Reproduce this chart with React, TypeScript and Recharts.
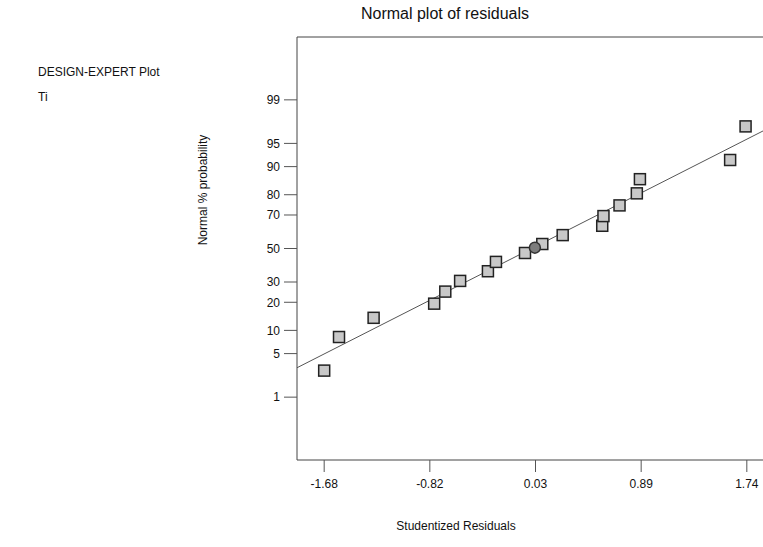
import React from 'react';
import { ScatterChart, Scatter, XAxis, YAxis, ReferenceLine, ReferenceArea } from 'recharts';

// studentized residuals of the runs (squares)
const residuals = [-1.68, -1.56, -1.28, -0.79, -0.7, -0.58, -0.355, -0.29, -0.055, 0.085, 0.25, 0.57, 0.58, 0.71, 0.85, 0.875, 1.605, 1.73];
const probabilities = [2.8, 8.3, 13.9, 19.4, 25, 30.6, 36.1, 41.7, 47.2, 52.8, 58.3, 63.9, 69.4, 75, 80.6, 86.1, 91.7, 97.2];

// the single round marker near the middle
const circleResidual = [0.025];
const circleProbability = [50.5];

// fitted reference line end points (residual, % probability)
const lineResidual = [-1.9, 1.96];
const lineProbability = [3.1, 97.3];

const xTicks = [-1.68, -0.825, 0.03, 0.885, 1.74];
const xTickLabels = ['-1.68', '-0.82', '0.03', '0.89', '1.74'];
const yTickLabels = [1, 5, 10, 20, 30, 50, 70, 80, 90, 95, 99];

const FONT = '"Liberation Sans", Arial, Helvetica, sans-serif';

// inverse normal CDF (Acklam), turns % probability into a normal score
const probit = (p: number) => {
  const a = [-39.69683028665376, 220.9460984245205, -275.9285104469687, 138.357751867269, -30.66479806614716, 2.506628277459239];
  const b = [-54.47609879822406, 161.5858368580409, -155.6989798598866, 66.80131188771972, -13.28068155288572];
  const c = [-0.007784894002430293, -0.3223964580411365, -2.400758277161838, -2.549732539343734, 4.374664141464968, 2.938163982698783];
  const d = [0.007784695709041462, 0.3224671290700398, 2.445134137142996, 3.754408661907416];
  const lo = 0.02425;
  if (p < lo) {
    const q = Math.sqrt(-2 * Math.log(p));
    return (((((c[0] * q + c[1]) * q + c[2]) * q + c[3]) * q + c[4]) * q + c[5]) / ((((d[0] * q + d[1]) * q + d[2]) * q + d[3]) * q + 1);
  }
  if (p > 1 - lo) {
    const q = Math.sqrt(-2 * Math.log(1 - p));
    return -(((((c[0] * q + c[1]) * q + c[2]) * q + c[3]) * q + c[4]) * q + c[5]) / ((((d[0] * q + d[1]) * q + d[2]) * q + d[3]) * q + 1);
  }
  const q = p - 0.5;
  const r = q * q;
  return ((((((a[0] * r + a[1]) * r + a[2]) * r + a[3]) * r + a[4]) * r + a[5]) * q) / (((((b[0] * r + b[1]) * r + b[2]) * r + b[3]) * r + b[4]) * r + 1);
};

const squareData = residuals.map((x, i) => ({ x, z: probit(probabilities[i] / 100) }));
const circleData = circleResidual.map((x, i) => ({ x, z: probit(circleProbability[i] / 100) }));
const yTicks = yTickLabels.map(p => probit(p / 100));

const X_DOMAIN: [number, number] = [-1.9, 1.96];
const Y_DOMAIN: [number, number] = [-3.31, 3.31];

const SquareMark = (props: any) => {
  const { cx, cy } = props;
  return <rect x={cx - 5.5} y={cy - 5.5} width={11} height={11} fill="#c8c8c8" stroke="#222" strokeWidth={1.5} />;
};

const CircleMark = (props: any) => {
  const { cx, cy } = props;
  return <circle cx={cx} cy={cy} r={5.5} fill="#7d7d7d" stroke="#333" strokeWidth={1.5} />;
};

// all positions are page coordinates (the frame is fixed to the viewport)
const text: React.CSSProperties = {
  position: 'absolute',
  fontFamily: FONT,
  fontSize: 12,
  color: '#111',
  whiteSpace: 'nowrap',
  lineHeight: '14px',
};

export default function App() {
  return (
    <div style={{ position: 'fixed', left: 0, top: 0, width: 763, height: 547, overflow: 'hidden', background: '#fff' }}>
      <div style={{ position: 'absolute', left: 0, top: 0 }}>
        <ScatterChart width={810} height={547} margin={{ top: 37, right: 36, bottom: 57, left: 0 }}>
          <XAxis
            type="number"
            dataKey="x"
            domain={X_DOMAIN}
            ticks={xTicks}
            interval={0}
            allowDataOverflow
            axisLine={false}
            tickSize={12}
            tickMargin={7}
            height={30}
            tickLine={{ stroke: '#555' }}
            tick={{ fill: '#111', fontSize: 12, fontFamily: FONT }}
            tickFormatter={(v: number) => xTickLabels[xTicks.indexOf(v)] ?? String(v)}
          />
          <YAxis
            type="number"
            dataKey="z"
            domain={Y_DOMAIN}
            ticks={yTicks}
            interval={0}
            allowDataOverflow
            axisLine={false}
            width={297}
            tickSize={13}
            tickMargin={4}
            tickLine={{ stroke: '#555' }}
            tick={{ fill: '#111', fontSize: 12, fontFamily: FONT }}
            tickFormatter={(v: number) => {
              const i = yTicks.findIndex(t => Math.abs(t - v) < 1e-6);
              return i >= 0 ? String(yTickLabels[i]) : '';
            }}
          />
          <ReferenceArea
            x1={X_DOMAIN[0]}
            x2={X_DOMAIN[1]}
            y1={Y_DOMAIN[0]}
            y2={Y_DOMAIN[1]}
            fill="none"
            fillOpacity={0}
            stroke="#444"
            strokeWidth={1}
          />
          <ReferenceLine
            segment={[
              { x: lineResidual[0], y: probit(lineProbability[0] / 100) },
              { x: lineResidual[1], y: probit(lineProbability[1] / 100) },
            ]}
            stroke="#555"
            strokeWidth={1}
          />
          <Scatter data={squareData} shape={SquareMark} isAnimationActive={false} />
          <Scatter data={circleData} shape={CircleMark} isAnimationActive={false} />
        </ScatterChart>
      </div>
      <div style={{ ...text, fontSize: 16, lineHeight: '18px', left: 445, top: 5, transform: 'translateX(-50%)' }}>
        Normal plot of residuals
      </div>
      <div style={{ ...text, left: 38, top: 65 }}>DESIGN-EXPERT Plot</div>
      <div style={{ ...text, left: 38, top: 90 }}>Ti</div>
      <div style={{ ...text, left: 203, top: 190, transform: 'translate(-50%, -50%) rotate(-90deg)' }}>
        Normal % probability
      </div>
      <div style={{ ...text, left: 456, top: 519, transform: 'translateX(-50%)' }}>Studentized Residuals</div>
    </div>
  );
}
